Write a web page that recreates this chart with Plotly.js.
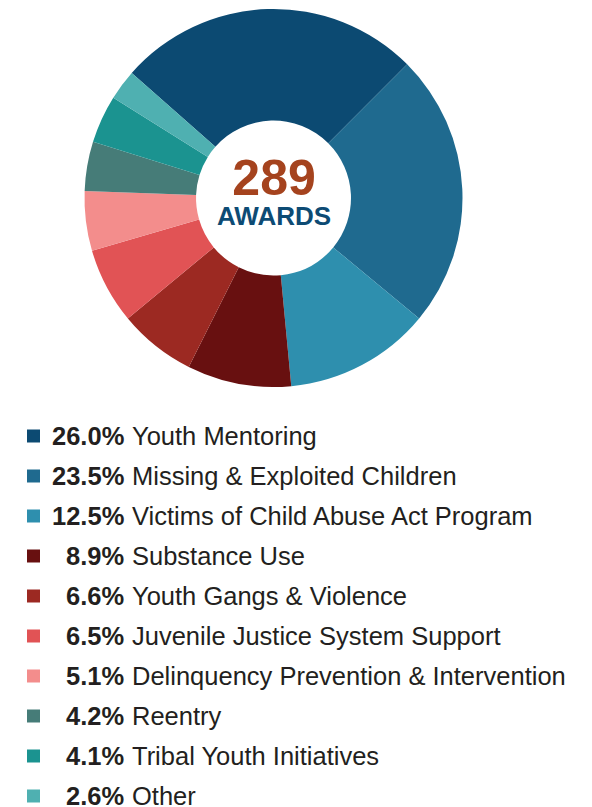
<!DOCTYPE html>
<html>
<head>
<meta charset="utf-8">
<script src="https://cdn.plot.ly/plotly-3.0.1.min.js"></script>
<style>
html,body{margin:0;padding:0;background:#fff;}
#chart{width:592px;height:807px;}
</style>
</head>
<body>
<div id="chart"></div>
<script>
const categories = [
  "Youth Mentoring",
  "Missing & Exploited Children",
  "Victims of Child Abuse Act Program",
  "Substance Use",
  "Youth Gangs & Violence",
  "Juvenile Justice System Support",
  "Delinquency Prevention & Intervention",
  "Reentry",
  "Tribal Youth Initiatives",
  "Other"
];
const shares = [26.0, 23.5, 12.5, 8.9, 6.6, 6.5, 5.1, 4.2, 4.1, 2.6];
const colors = ["#0c4a72", "#1f6a8f", "#2e8fae", "#681010", "#9c2922", "#e15355", "#f38d8c", "#467c78", "#1b9390", "#4fb0b1"];
const totalAwards = "289";
const centerLabel = "AWARDS";

const W = 592, H = 807;
const font = "Liberation Sans, Arial, Helvetica, sans-serif";

// pie geometry (pixels)
const cx = 273.5, cy = 198, R = 189;

const trace = {
  type: "pie",
  labels: categories,
  values: shares,
  sort: false,
  direction: "clockwise",
  rotation: -48.6,
  hole: 0.41,
  textinfo: "none",
  hoverinfo: "label+percent",
  marker: {colors: colors, line: {width: 0}},
  domain: {x: [(cx - R) / W, (cx + R) / W], y: [1 - (cy + R) / H, 1 - (cy - R) / H]},
  showlegend: false
};

const annotations = [
  {text: "<span style='font-size:50px;color:#a5431e'><b>" + totalAwards + "</b></span><br>" +
         "<span style='font-size:26px;color:#0d4b74'><b>" + centerLabel + "</b></span>",
   x: 274 / W, y: 1 - 190.5 / H, xref: "paper", yref: "paper",
   showarrow: false, xanchor: "center", yanchor: "middle", align: "center",
   font: {family: font, size: 23, color: "#0d4b74"}}
];
const shapes = [];
const rowY0 = 436, rowStep = 40, fs = 25.5;
categories.forEach((c, i) => {
  const y = rowY0 + i * rowStep;
  shapes.push({type: "rect", xref: "paper", yref: "paper",
    x0: 27 / W, x1: 40 / W, y0: 1 - (y + 6.5) / H, y1: 1 - (y - 6.5) / H,
    fillcolor: colors[i], line: {width: 0}});
  annotations.push({text: "<b>" + shares[i].toFixed(1) + "%</b>", x: 125 / W, y: 1 - y / H,
    xref: "paper", yref: "paper", showarrow: false, xanchor: "right", yanchor: "middle",
    borderpad: 0,
    font: {family: font, size: fs, color: "#231f20"}});
  annotations.push({text: c, x: 131 / W, y: 1 - y / H,
    xref: "paper", yref: "paper", showarrow: false, xanchor: "left", yanchor: "middle",
    borderpad: 0,
    font: {family: font, size: fs, color: "#231f20"}});
});

const layout = {
  width: W, height: H,
  margin: {l: 0, r: 0, t: 0, b: 0},
  paper_bgcolor: "#ffffff",
  plot_bgcolor: "#ffffff",
  showlegend: false,
  annotations: annotations,
  shapes: shapes
};

Plotly.newPlot("chart", [trace], layout, {displayModeBar: false, staticPlot: true});
</script>
</body>
</html>
